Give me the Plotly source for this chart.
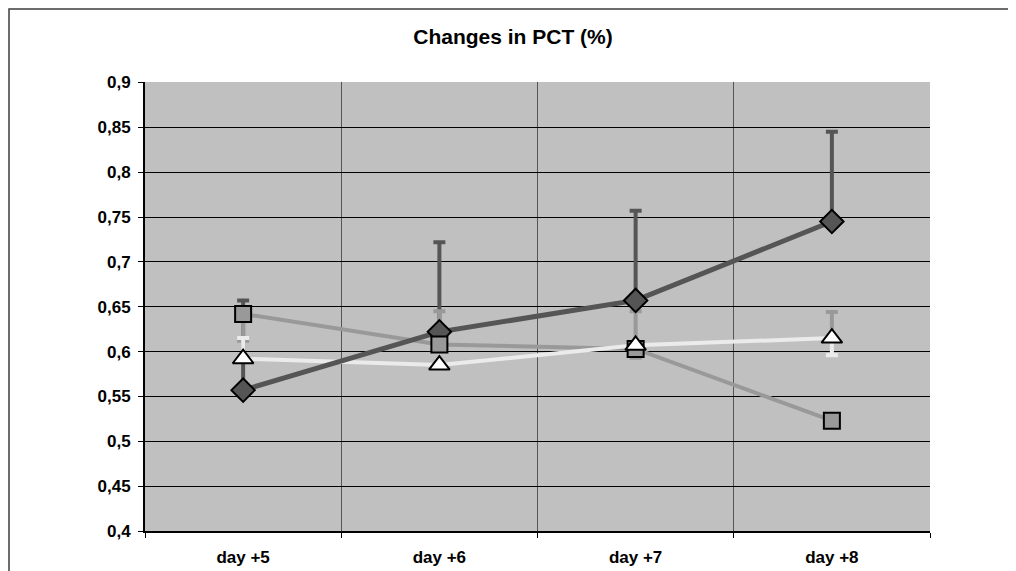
import plotly.graph_objects as go

categories = ["day +5", "day +6", "day +7", "day +8"]
series_diamond = [0.557, 0.622, 0.657, 0.745]
series_square = [0.642, 0.608, 0.603, 0.523]
series_triangle = [0.592, 0.585, 0.607, 0.615]

diamond_err_plus = [0.1, 0.1, 0.1, 0.1]
square_err_plus = [0.0, 0.037, 0.042, 0.0]
square_err_minus = [0.03, 0.0, 0.01, 0.0]
triangle_err_plus_light = [0.023, 0.0, 0.0, 0.0]
triangle_err_minus_light = [0.0, 0.0, 0.0, 0.019]
triangle_err_plus_gray = [0.0, 0.0, 0.0, 0.029]

y_tickvals = [0.4, 0.45, 0.5, 0.55, 0.6, 0.65, 0.7, 0.75, 0.8, 0.85, 0.9]
y_ticktext = ["0,4", "0,45", "0,5", "0,55", "0,6", "0,65", "0,7", "0,75", "0,8", "0,85", "0,9"]

DARK = "#555555"
GRAY = "#999999"
LIGHT = "#ebebeb"
FONT = dict(family="Liberation Sans, Arial, sans-serif", size=17, color="black", weight="bold")

# page has an 8px body margin, so the figure is sized to fit the 1016x571 window
W, H = 1008, 563
ML, MR, MT, MB = 137, 86, 74, 40

fig = go.Figure()

def err_trace(y, plus, minus, color):
    return go.Scatter(
        x=categories, y=y, mode="markers", marker=dict(size=1, opacity=0),
        error_y=dict(type="data", symmetric=False, array=plus, arrayminus=minus,
                     color=color, thickness=4, width=6),
        showlegend=False, hoverinfo="skip")

zeros = [0.0] * len(categories)
fig.add_trace(err_trace(series_diamond, diamond_err_plus, zeros, DARK))
fig.add_trace(err_trace(series_square, square_err_plus, square_err_minus, GRAY))
fig.add_trace(err_trace([None, None, None, series_triangle[3]], triangle_err_plus_gray, zeros, GRAY))
fig.add_trace(err_trace(series_triangle, triangle_err_plus_light, triangle_err_minus_light, LIGHT))

# lines
fig.add_trace(go.Scatter(x=categories, y=series_square, mode="lines",
                         line=dict(color=GRAY, width=4), showlegend=False))
fig.add_trace(go.Scatter(x=categories, y=series_triangle, mode="lines",
                         line=dict(color=LIGHT, width=4), showlegend=False))
fig.add_trace(go.Scatter(x=categories, y=series_diamond, mode="lines",
                         line=dict(color=DARK, width=5), showlegend=False))

# markers
fig.add_trace(go.Scatter(x=categories, y=series_diamond, mode="markers",
                         marker=dict(symbol="diamond", size=18, color=DARK,
                                     line=dict(color="black", width=2)), showlegend=False))
fig.add_trace(go.Scatter(x=categories, y=series_square, mode="markers",
                         marker=dict(symbol="square", size=16, color=GRAY,
                                     line=dict(color="black", width=2)), showlegend=False))
fig.add_trace(go.Scatter(x=categories, y=series_triangle, mode="markers",
                         marker=dict(symbol="triangle-up", size=18, color="white",
                                     line=dict(color="black", width=2)), showlegend=False))

fig.update_layout(
    width=W, height=H,
    margin=dict(l=ML, r=MR, t=MT, b=MB),
    paper_bgcolor="white", plot_bgcolor="#c0c0c0",
    title=dict(text="Changes in PCT (%)", x=505/W, xanchor="center",
               y=1 - 29/H, yanchor="middle", yref="container",
               font=dict(family="Liberation Sans, Arial, sans-serif", size=21, color="black", weight="bold")),
    showlegend=False,
    xaxis=dict(type="category", range=[-0.5, len(categories) - 0.5], tickson="boundaries",
               showgrid=True, gridcolor="#555555", gridwidth=1,
               ticks="outside", ticklen=5, tickcolor="black", tickwidth=1,
               showline=True, linecolor="black", linewidth=2, tickfont=FONT,
               ticklabelstandoff=10, automargin=False, fixedrange=True),
    yaxis=dict(range=[0.4, 0.9005], tickmode="array", tickvals=y_tickvals, ticktext=y_ticktext,
               showgrid=True, gridcolor="black", gridwidth=1, zeroline=False,
               ticks="outside", ticklen=5, tickcolor="black", tickwidth=1,
               showline=True, linecolor="black", linewidth=2, tickfont=FONT,
               ticklabelstandoff=4, automargin=False, fixedrange=True),
)

pw, ph = W - ML - MR, H - MT - MB
fig.add_shape(type="rect", xref="paper", yref="paper",
              x0=(1 - ML) / pw, x1=(W + 20 - ML) / pw,
              y0=-(MB + 20) / ph, y1=(ph + MT - 1) / ph,
              line=dict(color="#3c3c3c", width=1.5), fillcolor="rgba(0,0,0,0)", layer="below")

fig.write_html("out.html")
